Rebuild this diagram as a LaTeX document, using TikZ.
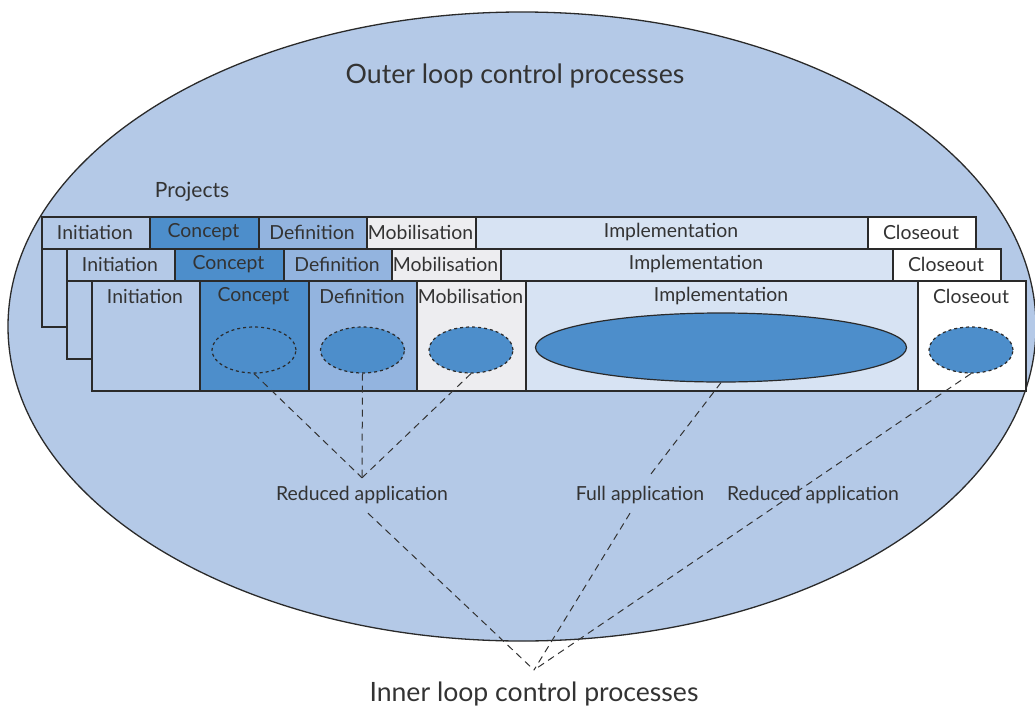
\documentclass[tikz,border=0pt]{standalone}
\usepackage{fontspec}
\setmainfont{Lato}
\usetikzlibrary{shapes.geometric}
\definecolor{outerc}{HTML}{B4C9E7}
\definecolor{inic}{HTML}{B4C9E7}
\definecolor{conc}{HTML}{4D8ECB}
\definecolor{defc}{HTML}{93B4DF}
\definecolor{mobc}{HTML}{EDEDF0}
\definecolor{impc}{HTML}{D7E3F3}
\definecolor{linec}{HTML}{2A2A2A}
\definecolor{txtc}{HTML}{333333}
\tikzset{
  cell/.style={draw=linec, line width=1.7pt, anchor=north west, inner sep=0pt, minimum height=#1},
  lbl/.style={text=txtc, font=\fontsize{19.4}{21}\selectfont, inner sep=0pt},
  inner/.style={ellipse, draw=linec, fill=conc, inner sep=0pt, line width=1.2pt},
  dsh/.style={draw=txtc, line width=1pt, dash pattern=on 7pt off 5pt},
}
\begin{document}
\begin{tikzpicture}[x=1pt,y=-1pt]
\useasboundingbox (0,0) rectangle (1035,709);
\node[ellipse, draw=linec, fill=outerc, line width=1.3pt, inner sep=0pt,
      minimum width=1028, minimum height=629] (outer) at (522,326.5) {};
\node[lbl, font=\fontsize{26.7}{29}\selectfont] (otitle) at (515,76) {Outer loop control processes};
\node[lbl, font=\fontsize{21}{23}\selectfont] (proj) at (192,192) {Projects};
\foreach \r/\h in {0/32,1/32,2/110}{
  \pgfmathsetmacro\ox{41+25*\r}
  \pgfmathsetmacro\oy{216+32*\r}
  \node[cell=110, fill=inic, minimum width=934] (p\r) at (\ox,\oy) {};
  \foreach \n/\a/\b/\c/\t in {ini/0/108/inic/Initiation, con/108/217/conc/Concept,
      def/217/325/defc/Definition, mob/325/434/mobc/Mobilisation,
      imp/434/826/impc/Implementation, clo/826/934/white/Closeout}{
    \node[cell=\h, fill=\c, minimum width={\b-\a}] (c\r\n) at (\ox+\a,\oy) {};
    \node[lbl] (t\r\n) at (\ox+\a/2+\b/2,\oy+16) {\t};
  }
}
\node[inner, dashed, minimum width=84, minimum height=46] (econ) at (254,350) {};
\node[inner, dashed, minimum width=84, minimum height=46] (edef) at (362.5,350) {};
\node[inner, dashed, minimum width=84, minimum height=46] (emob) at (471,350) {};
\node[inner, dashed, minimum width=84, minimum height=46] (eclo) at (971,350) {};
\node[inner, minimum width=371, minimum height=69] (eimp) at (721,347.5) {};
\node[lbl, minimum height=35] (rl) at (362,495.5) {Reduced application};
\node[lbl, minimum height=35] (fl) at (640,495.5) {Full application};
\node[lbl, minimum height=35] (rr) at (813,495.5) {Reduced application};
\coordinate (pt) at (534,670);
\node[lbl, font=\fontsize{26.6}{29}\selectfont] (ititle) at (534,694) {Inner loop control processes};
\draw[dsh] (econ.south) -- (rl.north);
\draw[dsh] (edef.south) -- (rl.north);
\draw[dsh] (emob.south) -- (rl.north);
\draw[dsh] ([xshift=6]rl.south) -- (pt);
\draw[dsh] (eimp.south) -- ([xshift=8]fl.north);
\draw[dsh] ([xshift=-10]fl.south) -- (pt);
\draw[dsh] (eclo.south) -- (pt);
\end{tikzpicture}
\end{document}
